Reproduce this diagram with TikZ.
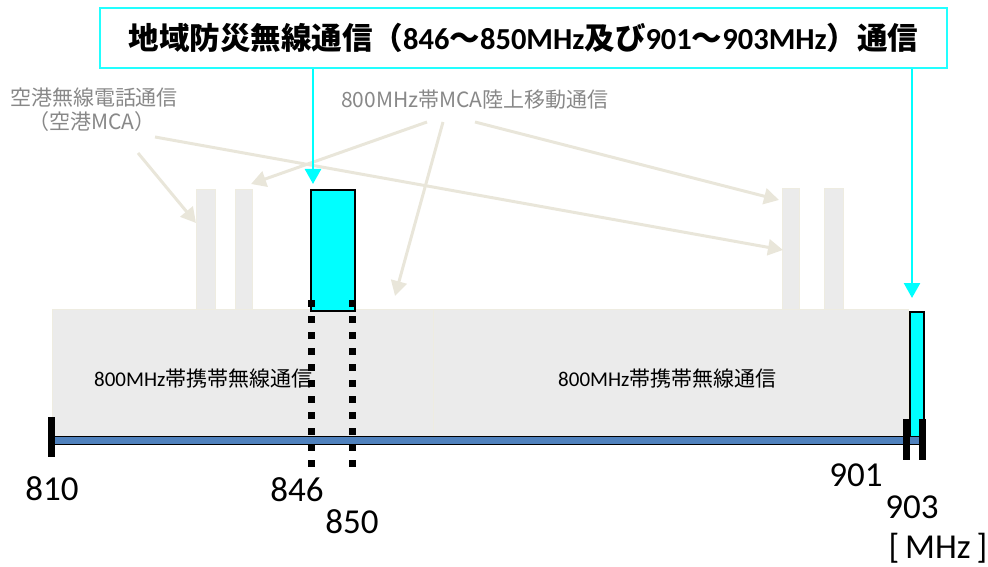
\documentclass[tikz,border=0pt]{standalone}
\usepackage{fontspec}
\setmainfont{Carlito}
\newfontfamily\cjk{Noto Sans CJK JP}
\usetikzlibrary{arrows.meta}
\definecolor{cyanA}{HTML}{00FFFF}
\definecolor{boxframe}{HTML}{22FFFF}
\definecolor{boxgray}{HTML}{EBEBEB}
\definecolor{beige}{HTML}{EEECE1}
\definecolor{arrgray}{HTML}{E9E6DA}
\definecolor{txtgray}{HTML}{888888}
\definecolor{axisblue}{HTML}{4F81BD}
\tikzset{
  band/.style={draw=beige, fill=boxgray, line width=1pt, inner sep=0pt, anchor=north west},
  grbar/.style={draw=beige, fill=boxgray, line width=1pt, inner sep=0pt, anchor=north west},
  cyblock/.style={draw=black, fill=cyanA, line width=1.5pt, inner sep=0pt, anchor=north west},
  tick/.style={fill=black, inner sep=0pt, anchor=north west},
  axisbar/.style={draw=black, fill=axisblue, line width=1pt, inner sep=0pt, anchor=north west},
  graylbl/.style={text=txtgray, font=\cjk\fontsize{21}{25}\selectfont, inner sep=0pt},
  bandlbl/.style={text=black, font=\fontsize{21}{25}\selectfont, inner sep=0pt, anchor=base west},
  numlbl/.style={text=black, font=\fontsize{35}{40}\selectfont, inner sep=0pt, anchor=base},
  grayarrow/.style={draw=arrgray, line width=3pt, -{Triangle[length=15pt,width=16pt]}},
  cyanarrow/.style={draw=cyanA, line width=2.5pt, -{Triangle[length=15pt,width=16pt]}},
  dotline/.style={draw=black, line width=7pt, dash pattern=on 7pt off 9pt}
}
\begin{document}
\begin{tikzpicture}[x=1pt,y=-1pt]
\useasboundingbox (0,0) rectangle (988,567);

% bands
\node[band, minimum width=381pt, minimum height=127pt] (bandL) at (52,309) {};
\node[band, minimum width=475pt, minimum height=127pt] (bandR) at (433,309) {};

% gray bars
\node[grbar, minimum width=19pt, minimum height=120pt] (bar1) at (196,189) {};
\node[grbar, minimum width=17pt, minimum height=120pt] (bar2) at (235,189) {};
\node[grbar, minimum width=17pt, minimum height=121pt] (bar3) at (782,188) {};
\node[grbar, minimum width=19pt, minimum height=121pt] (bar4) at (824,188) {};

% band labels
\node[bandlbl] (lblL) at (94,386) {800MHz{\cjk 帯携帯無線通信}};
\node[bandlbl] (lblR) at (558,386) {800MHz{\cjk 帯携帯無線通信}};

% cyan blocks
\node[cyblock, minimum width=44pt, minimum height=121pt] (blk846) at (310,189) {};
\node[cyblock, minimum width=14pt, minimum height=125pt] (blk901) at (909,311) {};

% axis
\node[axisbar, minimum width=871pt, minimum height=8pt] (axis) at (52,436) {};
\node[tick, minimum width=7pt, minimum height=40pt] (t810) at (48,417) {};
\node[tick, minimum width=7pt, minimum height=41pt] (t901) at (903,419) {};
\node[tick, minimum width=7pt, minimum height=41pt] (t903) at (919,419) {};

% dotted lines
\coordinate (d1t) at (311,300);
\coordinate (d1b) at (311,468);
\coordinate (d2t) at (352,300);
\coordinate (d2b) at (352,468);
\draw[dotline] (d1t) -- (d1b);
\draw[dotline] (d2t) -- (d2b);

% numbers
\node[numlbl] (n810) at (52,500) {810};
\node[numlbl] (n846) at (297,501) {846};
\node[numlbl] (n850) at (352,533) {850};
\node[numlbl] (n901) at (856,486) {901};
\node[numlbl] (n903) at (912,518) {903};
\node[numlbl, font=\fontsize{35}{40}\selectfont] (nMHz) at (938,558) {[\,MHz\,]};

% title
\node[draw=boxframe, line width=2.5pt, fill=white, minimum width=847pt, minimum height=60pt, inner sep=0pt,
      font=\bfseries\fontsize{30.5}{35}\selectfont] (title) at (523.5,38)
  {{\cjk\bfseries 地域防災無線通信（}846{\cjk\bfseries ～}850MHz{\cjk\bfseries 及び}901{\cjk\bfseries ～}903MHz{\cjk\bfseries ）通信}};

% gray labels
\node[graylbl] (apt1) at (94,98) {空港無線電話通信};
\node[graylbl] (apt2) at (92,122) {（空港MCA）};
\node[graylbl] (mca) at (475,100) {800MHz帯MCA陸上移動通信};

% gray arrows
\coordinate (a1s) at (138,153);
\coordinate (a1e) at (196,223);
\coordinate (a2s) at (155,137);
\coordinate (a2e) at (783,250);
\coordinate (a3s) at (427,122);
\coordinate (a3e) at (251,184);
\coordinate (a4s) at (443,122);
\coordinate (a4e) at (395,296);
\coordinate (a5s) at (475,122);
\coordinate (a5e) at (779,200);
\draw[grayarrow] (a1s) -- (a1e);
\draw[grayarrow] (a2s) -- (a2e);
\draw[grayarrow] (a3s) -- (a3e);
\draw[grayarrow] (a4s) -- (a4e);
\draw[grayarrow] (a5s) -- (a5e);

% cyan arrows
\coordinate (c1s) at (313,69);
\coordinate (c1e) at (313,184);
\coordinate (c2s) at (912,69);
\coordinate (c2e) at (912,298);
\draw[cyanarrow] (c1s) -- (c1e);
\draw[cyanarrow] (c2s) -- (c2e);
\end{tikzpicture}
\end{document}
